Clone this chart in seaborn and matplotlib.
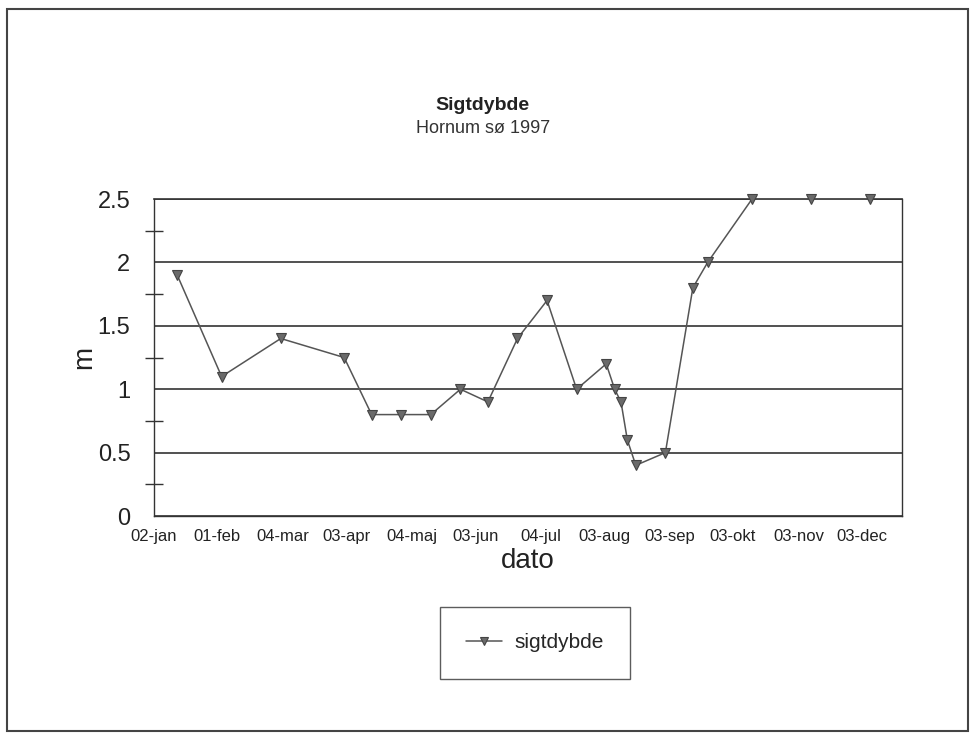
import pandas as pd
import matplotlib.pyplot as plt
import seaborn as sns
from matplotlib.patches import Rectangle

# Sigtdybde (Secchi depth) measurements, Hornum sø 1997
dates = ['1997-01-13', '1997-02-03', '1997-03-03', '1997-04-02', '1997-04-15',
         '1997-04-29', '1997-05-13', '1997-05-27', '1997-06-09', '1997-06-23',
         '1997-07-07', '1997-07-21', '1997-08-04', '1997-08-08', '1997-08-11',
         '1997-08-14', '1997-08-18', '1997-09-01', '1997-09-14', '1997-09-21',
         '1997-10-12', '1997-11-09', '1997-12-07']
sigtdybde = [1.9, 1.1, 1.4, 1.25, 0.8, 0.8, 0.8, 1.0, 0.9, 1.4,
             1.7, 1.0, 1.2, 1.0, 0.9, 0.6, 0.4, 0.5, 1.8, 2.0,
             2.5, 2.5, 2.5]

tick_dates = ['1997-01-02', '1997-02-01', '1997-03-04', '1997-04-03', '1997-05-04',
              '1997-06-03', '1997-07-04', '1997-08-03', '1997-09-03', '1997-10-03',
              '1997-11-03', '1997-12-03']
tick_labels = ['02-jan', '01-feb', '04-mar', '03-apr', '04-maj', '03-jun',
               '04-jul', '03-aug', '03-sep', '03-okt', '03-nov', '03-dec']
y_ticks = [0, 0.5, 1, 1.5, 2, 2.5]
y_labels = ['0', '0.5', '1', '1.5', '2', '2.5']
y_minor = [0.25, 0.75, 1.25, 1.75, 2.25]

df = pd.DataFrame({'dato': pd.to_datetime(dates), 'sigtdybde': sigtdybde})

sns.set_style('white')
plt.rcParams['font.family'] = ['Liberation Sans', 'DejaVu Sans']

fig = plt.figure(figsize=(9.71, 7.33), dpi=100)
ax = fig.add_axes([0.1586, 0.296, 0.929 - 0.1586, 0.7285 - 0.296])

# outer frame around the whole chart
fig.patches.append(Rectangle((7 / 971, 2 / 733), 961 / 971, 722 / 733,
                             transform=fig.transFigure, fill=False,
                             edgecolor='#444444', linewidth=1.5))

sns.lineplot(data=df, x='dato', y='sigtdybde', ax=ax, color='#555555',
             linewidth=1.1, marker='v', markersize=7, markerfacecolor='#6a6a6a',
             markeredgecolor='#444444', markeredgewidth=0.8, label='sigtdybde',
             clip_on=False, zorder=5)

ax.set_xlim(pd.Timestamp('1997-01-02'), pd.Timestamp('1997-12-22'))
ax.set_ylim(0, 2.5)

ax.set_xticks(pd.to_datetime(tick_dates))
ax.set_xticklabels(tick_labels, fontsize=12, color='#222222')
ax.set_yticks(y_ticks)
ax.set_yticklabels(y_labels, fontsize=17, color='#222222')
ax.set_yticks(y_minor, minor=True)

ax.tick_params(axis='x', direction='inout', length=14, width=0.9, color='#333333', pad=2)
ax.tick_params(axis='y', which='major', direction='out', length=11, width=1.0,
               color='#333333', pad=6)
ax.tick_params(axis='y', which='minor', direction='inout', length=13, width=1.0,
               color='#333333', left=True)

ax.grid(axis='y', which='major', color='#333333', linewidth=1.2)
ax.grid(axis='x', visible=False)

for side in ['left', 'bottom', 'right']:
    ax.spines[side].set_color('#333333')
    ax.spines[side].set_linewidth(1.0)
ax.spines['top'].set_color('#333333')
ax.spines['top'].set_linewidth(1.2)

ax.set_xlabel('dato', fontsize=20, color='#222222', labelpad=3)
ax.set_ylabel('m', fontsize=20, color='#222222', labelpad=0)

fig.text(0.497, 0.856, 'Sigtdybde', ha='center', va='center', fontsize=14,
         fontweight='bold', color='#222222')
fig.text(0.497, 0.825, 'Hornum sø 1997', ha='center', va='center', fontsize=13,
         color='#333333')

leg = ax.legend(loc='center', bbox_to_anchor=(535 / 971, (733 - 643) / 733),
                bbox_transform=fig.transFigure, fontsize=15, frameon=True,
                fancybox=False, handlelength=1.7, handletextpad=0.6,
                borderpad=1.25, markerscale=0.85)
leg.get_frame().set_edgecolor('#333333')
leg.get_frame().set_linewidth(1.0)

fig.savefig('out.png', dpi=100)
